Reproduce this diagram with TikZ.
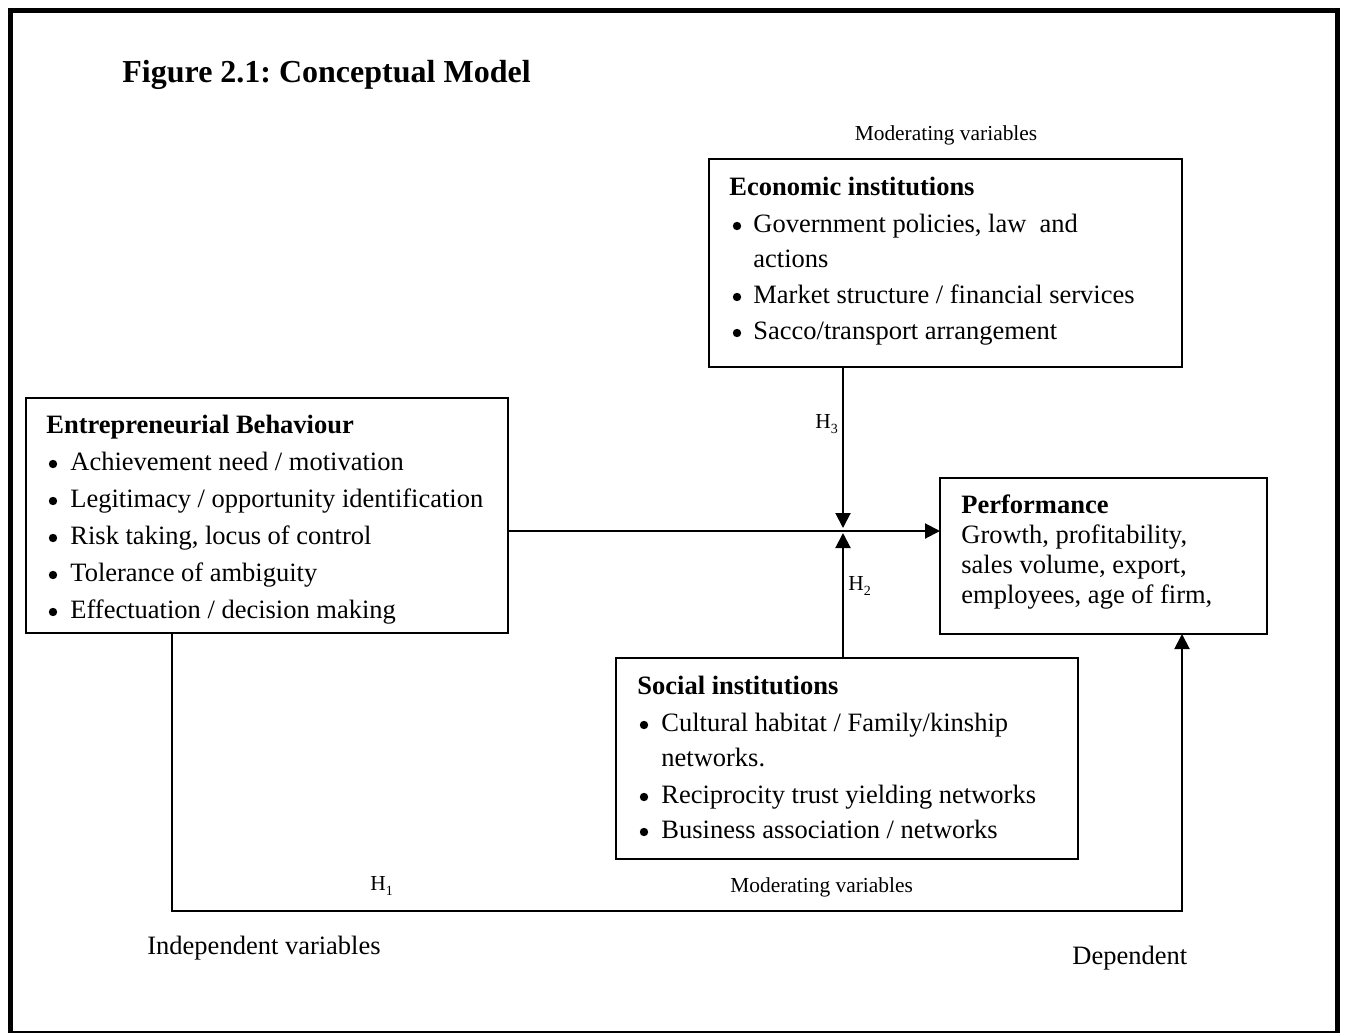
\documentclass[tikz,border=0pt]{standalone}
\usepackage{fontspec}
\setmainfont{Liberation Serif}
\usetikzlibrary{arrows.meta}
\newcommand\txtB{\fontsize{13.25pt}{15pt}\selectfont}
\newcommand\txtT{\fontsize{16pt}{19pt}\selectfont\bfseries}
\newcommand\txtS{\fontsize{10.7pt}{12pt}\selectfont}
\frenchspacing
\begin{document}
\begin{tikzpicture}[x=0.5pt,y=-0.5pt,
  box/.style={draw, line width=1pt, rectangle, inner sep=0pt, outer sep=0pt},
  txt/.style={anchor=base west, inner sep=0pt, font=\txtB},
  hd/.style={anchor=base west, inner sep=0pt, font=\txtB\bfseries},
  bul/.style={circle, fill=black, draw=none, inner sep=0pt, minimum size=4.2pt},
  sm/.style={anchor=base west, inner sep=0pt, font=\txtS},
  arr/.style={line width=1pt, -{Triangle[length=7.5pt,width=7.5pt]}}
]
\useasboundingbox (0,0) rectangle (1345,1033);
% outer frame
\draw[line width=2.5pt] (10.5,10) rectangle (1337.5,1033);

% title
\node[anchor=base west, inner sep=0pt, font=\txtT] (title) at (122,83) {Figure 2.1: Conceptual Model};
\node[anchor=base, inner sep=0pt, font=\txtS] (modtop) at (946,140) {Moderating variables};

% boxes
\node[box, minimum width=236.5pt, minimum height=104pt] (eco) at (945.5,263) {};
\node[box, minimum width=241pt, minimum height=117.5pt] (eb) at (267,515.5) {};
\node[box, minimum width=163.5pt, minimum height=78pt] (perf) at (1103.5,556) {};
\node[box, minimum width=231pt, minimum height=100.5pt] (soc) at (847,758.5) {};

% economic institutions
\node[hd] (ecoh) at (729,195) {Economic institutions};
\node[bul] (ecob1) at (737,226) {};
\node[txt] (ecot1) at (753,232) {Government policies, law\ \ and};
\node[txt] (ecot1b) at (753,267) {actions};
\node[bul] (ecob2) at (737,297) {};
\node[txt] (ecot2) at (753,303) {Market structure / financial services};
\node[bul] (ecob3) at (737,333) {};
\node[txt] (ecot3) at (753,339) {Sacco/transport arrangement};

% entrepreneurial behaviour
\node[hd] (ebh) at (46,433) {Entrepreneurial Behaviour};
\node[bul] (ebb1) at (53,464) {};
\node[txt] (ebt1) at (70,470) {Achievement need / motivation};
\node[bul] (ebb2) at (53,501) {};
\node[txt] (ebt2) at (70,507) {Legitimacy / opportunity identification};
\node[bul] (ebb3) at (53,538) {};
\node[txt] (ebt3) at (70,544) {Risk taking, locus of control};
\node[bul] (ebb4) at (53,575) {};
\node[txt] (ebt4) at (70,581) {Tolerance of ambiguity};
\node[bul] (ebb5) at (53,612) {};
\node[txt] (ebt5) at (70,618) {Effectuation / decision making};

% performance
\node[hd] (perfh) at (961,513) {Performance};
\node[txt] (perft1) at (961,543) {Growth, profitability,};
\node[txt] (perft2) at (961,573) {sales volume, export,};
\node[txt] (perft3) at (961,603) {employees, age of firm,};

% social institutions
\node[hd] (soch) at (637,694) {Social institutions};
\node[bul] (socb1) at (644,725) {};
\node[txt] (soct1) at (661,731) {Cultural habitat / Family/kinship};
\node[txt] (soct1b) at (661,766) {networks.};
\node[bul] (socb2) at (644,797) {};
\node[txt] (soct2) at (661,803) {Reciprocity trust yielding networks};
\node[bul] (socb3) at (644,832) {};
\node[txt] (soct3) at (661,838) {Business association / networks};

% hypothesis labels
\node[sm] (h3) at (815,428) {H{\fontsize{7pt}{8pt}\selectfont\raisebox{-2.5pt}{3}}};
\node[sm] (h2) at (848,590) {H{\fontsize{7pt}{8pt}\selectfont\raisebox{-2.5pt}{2}}};
\node[sm] (h1) at (370,890) {H{\fontsize{7pt}{8pt}\selectfont\raisebox{-2.5pt}{1}}};
\node[sm] (modbot) at (730,892) {Moderating variables};

% bottom labels
\node[txt] (indep) at (147,954) {Independent variables};
\node[txt] (dep) at (1072,964) {Dependent};

% connectors
\coordinate (j) at (843,531);
\coordinate (jt) at (843,528);
\coordinate (jb) at (843,533);
\coordinate (c1) at (172,911);
\coordinate (c2) at (1182,911);
\draw[arr] (eb.east |- j) -- (perf.west |- j);
\draw[arr] (eco.south -| j) -- (jt);
\draw[arr] (soc.north -| j) -- (jb);
\draw[arr] (eb.south -| c1) -- (c1) -- (c2) -- (perf.south -| c2);
\end{tikzpicture}
\end{document}
